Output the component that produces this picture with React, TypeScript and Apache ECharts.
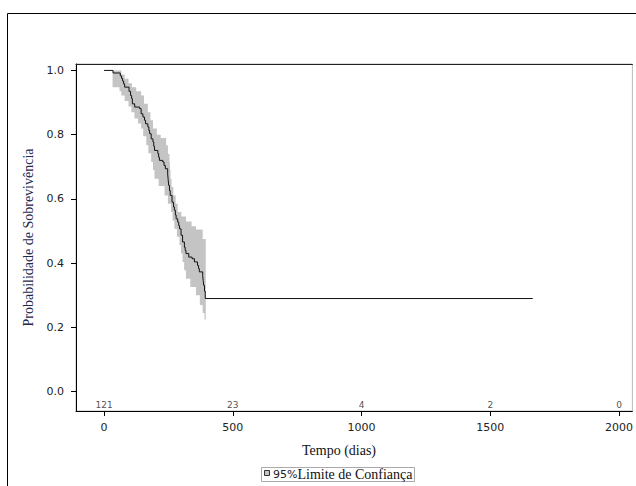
import React, { useEffect, useRef } from "react";
import * as echarts from "echarts";

// Kaplan-Meier estimate (step function, value holds until the next time)
const kmTimes = [0, 35, 63, 68, 72, 76, 80, 97, 103, 107, 110, 119, 138, 144, 151, 157, 161, 170, 174, 177, 183, 190, 193, 196, 209, 212, 215, 228, 233, 238, 247, 249, 251, 254, 257, 264, 270, 273, 277, 280, 286, 290, 293, 299, 305, 312, 315, 318, 329, 342, 351, 363, 367, 370, 383, 385, 387, 390, 393, 1665];
const kmSurv = [1.0, 0.992, 0.983, 0.975, 0.967, 0.958, 0.948, 0.935, 0.922, 0.912, 0.896, 0.886, 0.881, 0.865, 0.855, 0.845, 0.834, 0.824, 0.813, 0.803, 0.787, 0.777, 0.764, 0.751, 0.741, 0.73, 0.72, 0.715, 0.704, 0.694, 0.678, 0.66, 0.642, 0.626, 0.611, 0.59, 0.575, 0.565, 0.55, 0.538, 0.528, 0.517, 0.507, 0.487, 0.466, 0.45, 0.44, 0.43, 0.419, 0.414, 0.404, 0.393, 0.383, 0.373, 0.362, 0.346, 0.331, 0.313, 0.29, 0.29];

// 95% confidence limits (step functions)
const upperTimes = [33, 67, 80, 95, 108, 125, 144, 155, 170, 180, 190, 205, 220, 241, 248, 254, 256, 258, 262, 269, 278, 286, 300, 318, 340, 357, 383];
const upperVals = [1.0, 0.987, 0.974, 0.96, 0.948, 0.935, 0.922, 0.896, 0.87, 0.845, 0.819, 0.8, 0.79, 0.767, 0.74, 0.715, 0.69, 0.663, 0.637, 0.611, 0.585, 0.559, 0.545, 0.53, 0.515, 0.505, 0.475];
const lowerTimes = [33, 60, 67, 80, 95, 106, 118, 132, 144, 152, 164, 172, 183, 190, 196, 212, 235, 248, 260, 266, 273, 283, 293, 299, 305, 311, 318, 335, 357, 372, 383, 390];
const lowerVals = [0.948, 0.935, 0.922, 0.905, 0.888, 0.87, 0.85, 0.835, 0.819, 0.795, 0.767, 0.742, 0.715, 0.69, 0.663, 0.64, 0.611, 0.585, 0.559, 0.533, 0.507, 0.482, 0.456, 0.43, 0.404, 0.378, 0.352, 0.326, 0.3, 0.27, 0.245, 0.225];
const bandEnd = 395;

// Number at risk
const riskTimes = [0, 500, 1000, 1500, 2000];
const riskCounts = ["121", "23", "4", "2", "0"];

const xTicks = [0, 500, 1000, 1500, 2000];
const yTicks = [0, 0.2, 0.4, 0.6, 0.8, 1.0];

const xTitle = "Tempo (dias)";
const yTitle = "Probabilidade de Sobrevivência";
const legendPct = "95%";
const legendText = "Limite de Confiança";

const SANS = "DejaVu Sans";
const SERIF = "Liberation Serif, Times New Roman, serif";

function stepPoints(ts: number[], vs: number[], end: number): number[][] {
  const pts: number[][] = [];
  for (let i = 0; i < ts.length; i++) {
    if (i > 0) pts.push([ts[i], vs[i - 1]]);
    pts.push([ts[i], vs[i]]);
  }
  pts.push([end, vs[vs.length - 1]]);
  return pts;
}

export default function App() {
  const ref = useRef<HTMLDivElement>(null);
  useEffect(() => {
    if (!ref.current) return;
    const chart = echarts.init(ref.current, null, { renderer: "svg" });
    const upperPts = stepPoints(upperTimes, upperVals, bandEnd);
    const lowerPts = stepPoints(lowerTimes, lowerVals, bandEnd).reverse();
    const bandPts = upperPts.concat(lowerPts);

    const option: any = {
      animation: false,
      backgroundColor: "#fff",
      grid: {
        left: 76,
        top: 64,
        right: 1,
        bottom: 75,
        show: true,
        borderColor: "#bbb",
        borderWidth: 1,
      },
      xAxis: [
        {
          type: "value",
          min: -109,
          max: 2052,
          axisLine: { show: true, onZero: false, lineStyle: { color: "#000", width: 1 } },
          axisTick: {
            show: true,
            customValues: xTicks,
            length: 5,
            lineStyle: { color: "#000" },
          },
          axisLabel: {
            customValues: xTicks,
            margin: 11,
            fontFamily: SANS,
            fontSize: 11,
            color: "#222",
            formatter: (v: number) => (xTicks.indexOf(v) >= 0 ? String(v) : ""),
          },
          splitLine: { show: false },
        },
        {
          type: "value",
          position: "top",
          min: -109,
          max: 2052,
          axisLine: { show: true, onZero: false, lineStyle: { color: "#222", width: 1 } },
          axisTick: { show: false },
          axisLabel: { show: false },
          splitLine: { show: false },
        },
      ],
      yAxis: {
        type: "value",
        min: -0.06,
        max: 1.02,
        axisLine: { show: true, onZero: false, lineStyle: { color: "#000", width: 1 } },
        axisTick: {
          show: true,
          customValues: yTicks,
          length: 5,
          lineStyle: { color: "#000" },
        },
        axisLabel: {
          customValues: yTicks,
          margin: 12,
          fontFamily: SANS,
          fontSize: 11,
          color: "#222",
          formatter: (v: number) =>
            yTicks.some((t) => Math.abs(t - v) < 1e-9) ? v.toFixed(1) : "",
        },
        splitLine: { show: false },
      },
      series: [
        {
          type: "custom",
          name: "band",
          silent: true,
          data: [[0, 0]],
          renderItem: (params: any, api: any) => {
            const points = bandPts.map((p) => api.coord(p));
            return {
              type: "polygon",
              shape: { points },
              style: { fill: "#c4c4c4", stroke: "none" },
            };
          },
          z: 1,
        },
        {
          type: "line",
          name: "km",
          step: "end",
          symbol: "none",
          data: kmTimes.map((t, i) => [t, kmSurv[i]]),
          lineStyle: { color: "#111", width: 1 },
          z: 3,
        },
        {
          type: "scatter",
          name: "risk",
          symbolSize: 1,
          itemStyle: { color: "rgba(0,0,0,0)" },
          data: riskTimes.map((t) => [t, -0.041]),
          label: {
            show: true,
            position: "inside",
            fontFamily: SANS,
            fontSize: 9,
            color: "#222",
            formatter: (p: any) => riskCounts[p.dataIndex],
          },
          z: 4,
        },
      ],
      graphic: [
        {
          type: "rect",
          silent: true,
          shape: { x: 7.5, y: 13.5, width: 700, height: 600 },
          style: { fill: "none", stroke: "#000", lineWidth: 1 },
          z: 10,
        },
        {
          type: "text",
          x: 28,
          y: 237.5,
          rotation: Math.PI / 2,
          style: {
            text: yTitle,
            font: `14px ${SERIF}`,
            fill: "#1e2850",
            align: "center",
            verticalAlign: "middle",
          },
        },
        {
          type: "text",
          x: 339,
          y: 450,
          style: {
            text: xTitle,
            font: `14px ${SERIF}`,
            fill: "#111",
            align: "center",
            verticalAlign: "middle",
          },
        },
        {
          type: "rect",
          shape: { x: 261.5, y: 467.5, width: 153, height: 14 },
          style: { fill: "#fff", stroke: "#aaa", lineWidth: 1 },
        },
        {
          type: "rect",
          shape: { x: 264.5, y: 470.5, width: 5, height: 5 },
          style: { fill: "#c4c4c4", stroke: "#333", lineWidth: 1 },
        },
        {
          type: "text",
          x: 273,
          y: 474,
          style: {
            text: `{a|${legendPct}}{b|${legendText}}`,
            verticalAlign: "middle",
            align: "left",
            rich: {
              a: { fontFamily: SANS, fontSize: 11, fill: "#222" },
              b: { fontFamily: SERIF, fontSize: 14, fill: "#111" },
            },
          },
        },
      ],
    };
    chart.setOption(option);
    return () => chart.dispose();
  }, []);
  return (
    <div
      ref={ref}
      style={{ position: "fixed", left: 0, top: 0, width: 636, height: 486 }}
    />
  );
}
